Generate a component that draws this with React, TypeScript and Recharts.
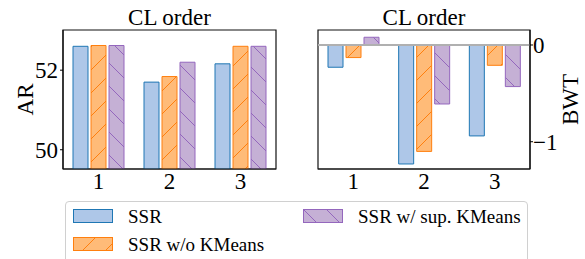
import { Bar, BarChart, ReferenceArea, ReferenceLine, XAxis, YAxis } from "recharts";

const orders = ["1", "2", "3"];
const seriesNames = ["SSR", "SSR w/o KMeans", "SSR w/ sup. KMeans"];

// AR per CL order
const arSsr = [52.6, 51.7, 52.16];
const arNoKmeans = [52.62, 51.84, 52.6];
const arSupKmeans = [52.62, 52.2, 52.6];

// BWT per CL order
const bwtSsr = [-0.23, -1.23, -0.94];
const bwtNoKmeans = [-0.13, -1.1, -0.21];
const bwtSupKmeans = [0.08, -0.61, -0.43];

const arTicks = [50, 52];
const bwtTicks = [-1, 0];

const arDomain = [49.516, 53.01];
const bwtDomain = [-1.282, 0.155];

const FONT = '"Liberation Serif", "Times New Roman", serif';

const seriesStyles = [
    { key: "ssr", fill: "#aec7e8", stroke: "#1f77b4" },
    { key: "noKm", fill: "url(#hatchOrange)", stroke: "#ff7f0e" },
    { key: "supKm", fill: "url(#hatchPurple)", stroke: "#9467bd" },
];

const arData = orders.map((order, i) => ({
    order,
    ssr: arSsr[i],
    noKm: arNoKmeans[i],
    supKm: arSupKmeans[i],
}));

const bwtData = orders.map((order, i) => ({
    order,
    ssr: bwtSsr[i],
    noKm: bwtNoKmeans[i],
    supKm: bwtSupKmeans[i],
}));

const tickStyle = { fontSize: 23, fill: "#000", fontFamily: FONT };
const frame = { stroke: "#111", strokeWidth: 1.2 };
const fmtMinus = (v: number) => (v < 0 ? `\u2212${Math.abs(v)}` : `${v}`);

const Patterns = () => (
    <svg width={0} height={0} style={{ position: "absolute" }}>
        <defs>
            <pattern id="hatchOrange" patternUnits="userSpaceOnUse" width={23} height={23}>
                <rect width={23} height={23} fill="#ffbb78" />
                <path d="M0,23 L23,0 M-5,5 L5,-5 M18,28 L28,18" stroke="#ff7f0e" strokeWidth={1} />
            </pattern>
            <pattern id="hatchPurple" patternUnits="userSpaceOnUse" width={23} height={23}>
                <rect width={23} height={23} fill="#c5b0d5" />
                <path d="M0,0 L23,23 M-5,18 L5,28 M18,-5 L28,5" stroke="#9467bd" strokeWidth={1} />
            </pattern>
        </defs>
    </svg>
);

const Title = ({ left, width }: { left: number; width: number }) => (
    <div
        style={{
            position: "absolute",
            left,
            width,
            top: 6,
            textAlign: "center",
            fontFamily: FONT,
            fontSize: 23,
            lineHeight: "23px",
            color: "#000",
        }}
    >
        CL order
    </div>
);

const bars = () =>
    seriesStyles.map((s) => (
        <Bar
            key={s.key}
            dataKey={s.key}
            fill={s.fill}
            stroke={s.stroke}
            strokeWidth={1}
            isAnimationActive={false}
        />
    ));

const LegendBox = () => {
    const spots = [
        { x: 7, y: 7 },
        { x: 7, y: 35 },
        { x: 237, y: 7 },
    ];
    return (
        <div
            style={{
                position: "absolute",
                left: 65,
                top: 201,
                width: 463,
                height: 70,
                border: "1px solid #d0d0d0",
                borderRadius: 4,
                boxSizing: "border-box",
                background: "#fff",
            }}
        >
            {seriesNames.map((name, i) => (
                <div
                    key={name}
                    style={{
                        position: "absolute",
                        left: spots[i].x,
                        top: spots[i].y,
                        display: "flex",
                        alignItems: "center",
                        height: 14,
                    }}
                >
                    <svg width={40} height={14}>
                        <rect
                            x={0.5}
                            y={0.5}
                            width={39}
                            height={13}
                            fill={seriesStyles[i].fill}
                            stroke={seriesStyles[i].stroke}
                        />
                    </svg>
                    <span
                        style={{
                            marginLeft: 15,
                            fontFamily: FONT,
                            fontSize: 19,
                            lineHeight: "19px",
                            color: "#000",
                            whiteSpace: "nowrap",
                        }}
                    >
                        {name}
                    </span>
                </div>
            ))}
        </div>
    );
};

export default function App() {
    return (
        <div style={{ position: "absolute", left: 0, top: 0, width: 585, height: 259, background: "#fff", overflow: "hidden" }}>
            <Patterns />
            <Title left={63} width={213} />
            <Title left={318} width={212} />

            <div style={{ position: "absolute", left: 0, top: 0 }}>
                <BarChart
                    width={290}
                    height={200}
                    data={arData}
                    margin={{ top: 30, right: 14, left: 0, bottom: 0 }}
                    barGap={3}
                    barSize={15}
                >
                    <XAxis
                        dataKey="order"
                        height={31}
                        tickLine={false}
                        tickSize={0}
                        tickMargin={4}
                        tick={tickStyle}
                        axisLine={frame}
                    />
                    <YAxis
                        width={63}
                        type="number"
                        domain={arDomain}
                        allowDataOverflow
                        ticks={arTicks}
                        tickSize={3}
                        tickMargin={2}
                        tick={tickStyle}
                        tickLine={{ stroke: "#000" }}
                        axisLine={frame}
                        label={{
                            value: "AR",
                            angle: -90,
                            position: "insideLeft",
                            offset: 25,
                            style: { textAnchor: "middle", fontSize: 23, fill: "#000", fontFamily: FONT },
                        }}
                    />
                    <ReferenceArea y1={arDomain[0]} y2={arDomain[1]} fill="none" stroke="#111" strokeWidth={1.2} ifOverflow="visible" />
                    {bars()}
                </BarChart>
            </div>

            <div style={{ position: "absolute", left: 290, top: 0 }}>
                <BarChart
                    width={295}
                    height={200}
                    data={bwtData}
                    margin={{ top: 30, right: 0, left: 28, bottom: 0 }}
                    barGap={3}
                    barSize={15}
                >
                    <XAxis
                        dataKey="order"
                        height={31}
                        tickLine={false}
                        tickSize={0}
                        tickMargin={4}
                        tick={tickStyle}
                        axisLine={frame}
                    />
                    <YAxis
                        orientation="right"
                        width={55}
                        type="number"
                        domain={bwtDomain}
                        allowDataOverflow
                        ticks={bwtTicks}
                        tickFormatter={fmtMinus}
                        tickSize={3}
                        tickMargin={0}
                        tick={tickStyle}
                        tickLine={{ stroke: "#000" }}
                        axisLine={frame}
                        label={{
                            value: "BWT",
                            angle: -90,
                            position: "insideRight",
                            offset: 15,
                            style: { textAnchor: "middle", fontSize: 23, fill: "#000", fontFamily: FONT },
                        }}
                    />
                    <ReferenceArea y1={bwtDomain[0]} y2={bwtDomain[1]} fill="none" stroke="#111" strokeWidth={1.2} ifOverflow="visible" />
                    <ReferenceLine y={0} stroke="#b0b0b0" strokeWidth={2} />
                    {bars()}
                </BarChart>
            </div>

            <LegendBox />
        </div>
    );
}
